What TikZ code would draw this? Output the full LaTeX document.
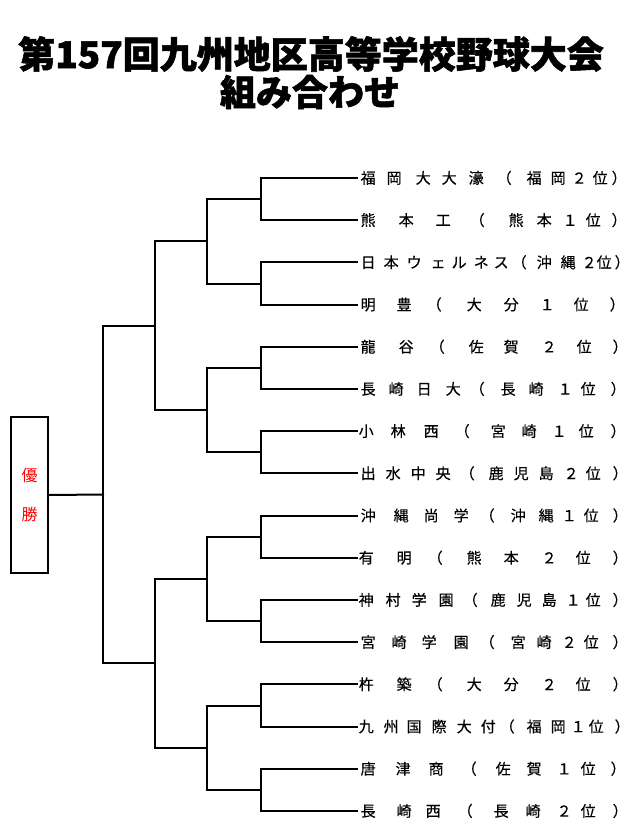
\documentclass[tikz,border=0pt]{standalone}
\usepackage{fontspec}
\newfontfamily\jp{Noto Sans CJK JP}
\newfontfamily\jpm[FakeBold=0.4]{Noto Sans CJK JP}
\newfontfamily\jpt[BoldFeatures={FakeBold=1.5}]{Noto Sans CJK JP}
\newcommand\tch[2]{\makebox[0pt][l]{\hspace*{\dimexpr#2pt-358pt\relax}\makebox[0pt][c]{#1}}}
\newcommand\teamtext[1]{\makebox[264pt][l]{\foreach \c/\x in {#1}{\tch{\c}{\x}}}}
\tikzset{
  bracket/.style={line width=2pt, line cap=rect},
  team/.style={anchor=base west, inner sep=0pt, font=\jpm\fontsize{15}{15}\selectfont},
  titletext/.style={inner sep=0pt, font=\jpt\bfseries\fontsize{37}{40}\selectfont},
  winbox/.style={draw, line width=2pt, minimum width=37pt, minimum height=156pt, inner sep=0pt,
    text=red, align=center, font=\jp\fontsize{16}{39}\selectfont}
}
\begin{document}
\begin{tikzpicture}[x=1pt,y=-1pt]
\useasboundingbox (0,0) rectangle (635,835);
% title
\node[titletext] (title1) at (311,54) {第157回九州地区高等学校野球大会};
\node[titletext, font=\jpt\bfseries\fontsize{36}{40}\selectfont] (title2) at (310,92) {組み合わせ};
% team line end points
\foreach \i in {1,...,16}{
  \pgfmathsetmacro\yy{178+42.2*(\i-1)}
  \coordinate (e\i) at (356.5,\yy);
}
% junctions
\foreach \k in {1,...,8}{
  \pgfmathsetmacro\yy{178+42.2*(2*\k-1.5)}
  \coordinate (ra\k) at (261,\yy);
}
\foreach \k in {1,...,4}{
  \pgfmathsetmacro\yy{178+42.2*(4*\k-2.5)}
  \coordinate (rb\k) at (207,\yy);
}
\foreach \k in {1,2}{
  \pgfmathsetmacro\yy{178+42.2*(8*\k-4.5)}
  \coordinate (rc\k) at (155,\yy);
}
\coordinate (rd) at (103,{178+42.2*7.5});
% winner box
\node[winbox] (win) at (29.5,495) {優\\勝};
% brackets
\foreach \k in {1,...,8}{
  \pgfmathtruncatemacro\a{2*\k-1}
  \pgfmathtruncatemacro\b{2*\k}
  \draw[bracket] (e\a) -| (ra\k) |- (e\b);
}
\foreach \k in {1,...,4}{
  \pgfmathtruncatemacro\a{2*\k-1}
  \pgfmathtruncatemacro\b{2*\k}
  \draw[bracket] (ra\a) -| (rb\k) |- (ra\b);
}
\foreach \k in {1,2}{
  \pgfmathtruncatemacro\a{2*\k-1}
  \pgfmathtruncatemacro\b{2*\k}
  \draw[bracket] (rb\a) -| (rc\k) |- (rb\b);
}
\draw[bracket] (rc1) -| (rd) |- (rc2);
\draw[bracket] (rd) -- (win.east);
% teams
\begin{scope}[every node/.append style={xshift=2.5pt, yshift=-5.6pt}]
\node[team] (t1) at (e1) {\teamtext{福/367,岡/393,大/422,大/448,濠/475,（/503,福/533,岡/557,２/578,位/599,）/618}};
\node[team] (t2) at (e2) {\teamtext{熊/367,本/405,工/442,（/476,熊/515,本/543,１/569,位/592,）/618}};
\node[team] (t3) at (e3) {\teamtext{日/367,本/390,ウ/413,ェ/437,ル/458,ネ/480,ス/500,（/518,沖/543,縄/567,２/588,位/603,）/621}};
\node[team] (t4) at (e4) {\teamtext{明/367,豊/403,（/433,大/473,分/510,１/546,位/580,）/616}};
\node[team] (t5) at (e5) {\teamtext{龍/367,谷/405,（/436,佐/475,賀/510,２/548,位/583,）/619}};
\node[team] (t6) at (e6) {\teamtext{長/367,崎/395,日/423,大/452,（/476,長/507,崎/535,１/564,位/587,）/617}};
\node[team] (t7) at (e7) {\teamtext{小/365,林/397,西/430,（/461,宮/497,崎/528,１/558,位/585,）/617}};
\node[team] (t8) at (e8) {\teamtext{出/367,水/392,中/417,央/442,（/466,鹿/495,児/520,島/545,２/570,位/592,）/619}};
\node[team] (t9) at (e9) {\teamtext{沖/367,縄/400,尚/430,学/460,（/486,沖/517,縄/545,１/568,位/590,）/619}};
\node[team] (t10) at (e10) {\teamtext{有/365,明/403,（/434,熊/473,本/510,２/548,位/582,）/619}};
\node[team] (t11) at (e11) {\teamtext{神/365,村/392,学/418,園/445,（/469,鹿/497,児/523,島/548,１/572,位/592,）/619}};
\node[team] (t12) at (e12) {\teamtext{宮/367,崎/398,学/428,園/460,（/486,宮/517,崎/543,２/568,位/590,）/619}};
\node[team] (t13) at (e13) {\teamtext{杵/365,築/403,（/434,大/473,分/510,２/548,位/582,）/619}};
\node[team] (t14) at (e14) {\teamtext{九/365,州/390,国/413,際/438,大/463,付/487,（/506,福/533,岡/557,１/577,位/595,）/621}};
\node[team] (t15) at (e15) {\teamtext{唐/367,津/402,商/435,（/468,佐/502,賀/533,１/563,位/587,）/617}};
\node[team] (t16) at (e16) {\teamtext{長/367,崎/403,西/432,（/464,長/500,崎/532,２/563,位/587,）/619}};
\end{scope}
\end{tikzpicture}
\end{document}
